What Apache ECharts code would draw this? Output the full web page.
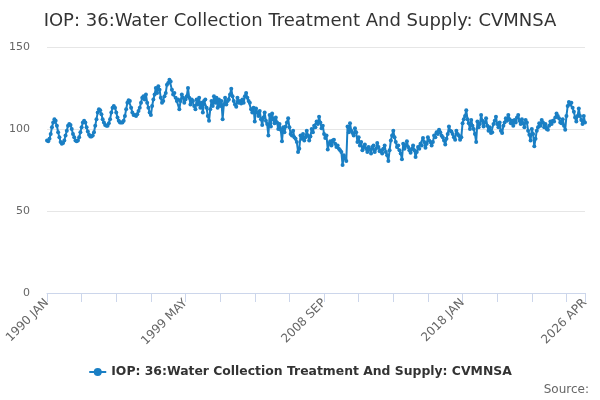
<!DOCTYPE html>
<html><head><meta charset="utf-8">
<script src="https://cdn.jsdelivr.net/npm/echarts@6/dist/echarts.min.js"></script>
<style>html,body{margin:0;padding:0;background:#fff}#c{width:600px;height:400px}</style>
</head><body><div id="c"></div>
<script>
const startYear = 1990;
const monthNames = ['JAN','FEB','MAR','APR','MAY','JUN','JUL','AUG','SEP','OCT','NOV','DEC'];
const yTicks = [0, 50, 100, 150];
const seriesName = 'IOP: 36:Water Collection Treatment And Supply: CVMNSA';
const values = [
  93,92.5,94,97,101,104,106,105,102,98,95,92,
  91,91.5,93,96,99,102,103,102.5,100,97,95,93,
  92.5,93,95,98,101,104,105,104,101,98.5,96.5,95.5,
  95.5,96,98,102,106,110,112,111.5,109,106,104,102.5,
  102,102,103.5,106,110,113,114,113,110,107,105,104,
  104,104,105,108,112,116,117.5,117,113,110,108.5,108.5,
  108,109,111,113,116,119,120,118,121,116,113,110,
  108.5,114,118,121,125,122,126,124,119,116,117,120,
  122,127,128,130,129,124,121,122,119,117,118,112,
  117,121,119,116,118,120,125,119,115,118,117,114,
  112,118,115,119,113,116,110,117,118,113,108,105,
  112,117,114,120,116,119,113,118,114,117,106,115,
  119,115,117,118,121,124.5,120,117,115,113.5,119,116,
  117,115.5,118,116,120,122,119,117,116,112,110,113,
  104.5,112.5,110,108,111,106,102.5,107,110,105,103,96,
  108.5,101.5,109.5,106,103.5,107,104,100,103,99.5,92.5,101,
  98,101.5,104,106.5,101,97,96,99,95,94,92,86,
  88,96,94,97,93,95,99,96,93,95.5,100,98,
  102,101,104.5,103,107.5,104,100.5,102,97,94.5,96,87.5,
  91,92.5,90,93,93.5,91,89,90,88,87,86,78,
  84,82,80.5,101.5,98,103.5,99,97.5,96,100.5,98,92,
  95,90,92,87,89,90.5,88,86,89,87.5,85,89,
  90,86,88,91.5,89,86.5,87,85,88,90,86,84,
  80.5,87,93,96,99,95,92,89,90,87,85,81.5,
  91,88,90,92.5,89,87,85.5,88,90,87,83,86,
  89,88,91,90,94.5,92,88.5,91,95,93,92,90,
  92,96,95,98,97,99.5,98,96,95,93,90.5,94,
  97,101.5,99,98.5,97,95,93.5,99,97,96,93.5,95,
  103.5,106,108,111.5,106,103.5,100,105.5,102,100,97,92,
  104.5,101,103,108.5,105,101.5,104,106.5,102,99,101,97.5,
  98,103,105,107.5,103,101,104,99,97.5,102,104,106.5,
  105,108.5,106,103.5,105,102,105.5,104,107,108.5,105,103,
  106,103.5,101,105.5,104,99,96.5,93,100,97,89.5,94,
  99,101,103.5,102,105.5,104,101,103,100,99.5,102,104.5,
  103,105,104.5,107,109.5,108,106.5,104,103.5,106,102,99.5,
  108,114,116.5,115,116,113,110.5,107,104.5,108,112.5,108,
  105.5,103,108,104
];
const categories = values.map((v, i) => (startYear + Math.floor(i / 12)) + ' ' + monthNames[i % 12]);
const lastIdx = categories.length - 1;

const chart = echarts.init(document.getElementById('c'), null, {renderer: 'canvas'});
chart.setOption({
  animation: false,
  textStyle: {fontFamily: 'DejaVu Sans'},
  title: {
    text: seriesName,
    left: 'center', top: 7,
    textStyle: {fontSize: 18, fontWeight: 'normal', color: '#333', fontFamily: 'DejaVu Sans'}
  },
  legend: {
    bottom: 17, left: 'center',
    itemWidth: 17, itemHeight: 10, itemGap: 10,
    textStyle: {fontSize: 12.4, fontWeight: 'bold', color: '#333'},
    data: [seriesName]
  },
  graphic: [{
    type: 'text', right: 11, bottom: 4,
    style: {text: 'Source:', fontSize: 12, fill: '#666', fontFamily: 'DejaVu Sans'}
  }],
  grid: {left: 47, right: 15, top: 47, bottom: 107, containLabel: false},
  xAxis: {
    type: 'category', data: categories, boundaryGap: false,
    axisLine: {lineStyle: {color: '#ccd6eb'}},
    axisTick: {show: true, length: 9, lineStyle: {color: '#ccd6eb'},
      interval: (i) => i % 28 === 0 || i === lastIdx},
    axisLabel: {rotate: 45, fontSize: 12, color: '#666', margin: 8,
      interval: (i) => i % 112 === 0 || i === lastIdx},
    splitLine: {show: false}
  },
  yAxis: {
    type: 'value', min: yTicks[0], max: yTicks[yTicks.length - 1], interval: 50,
    axisLine: {show: false}, axisTick: {show: false},
    axisLabel: {fontSize: 11, color: '#666', margin: 17},
    splitLine: {lineStyle: {color: '#e6e6e6'}}
  },
  series: [{
    name: seriesName, type: 'line', data: values,
    symbol: 'circle', symbolSize: 4, showSymbol: true, showAllSymbol: true,
    itemStyle: {color: '#1a7fc4'},
    lineStyle: {width: 2, color: '#1a7fc4'}
  }]
});
</script></body></html>
